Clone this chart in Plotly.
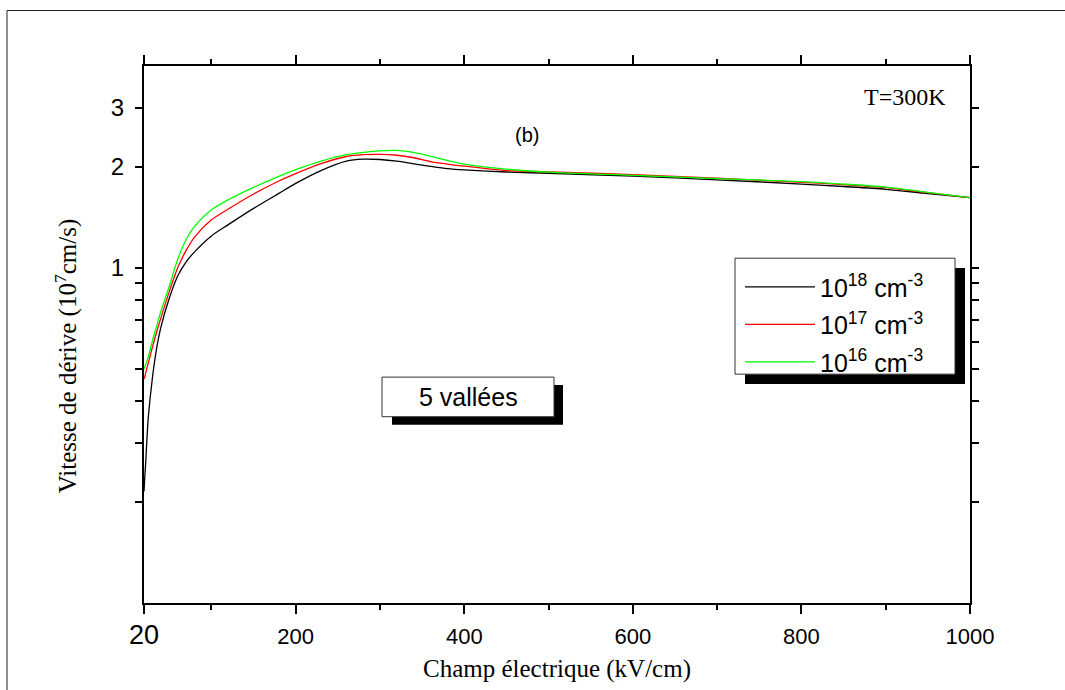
import plotly.graph_objects as go

# ---- data ----
field = [20, 21, 22, 25, 30, 35, 40, 50, 60, 70, 80, 100, 120, 150, 180, 200, 230, 260,
         280, 300, 320, 340, 360, 380, 400, 450, 500, 600, 700, 800, 850, 900, 950, 1000]

v_1e18 = [0.215, 0.239, 0.262, 0.355, 0.470, 0.575, 0.664, 0.811, 0.945, 1.042, 1.116, 1.245,
          1.345, 1.504, 1.668, 1.786, 1.950, 2.080, 2.110, 2.104, 2.080, 2.043, 2.008, 1.977,
          1.959, 1.931, 1.915, 1.876, 1.830, 1.778, 1.748, 1.715, 1.665, 1.620]
v_1e17 = [0.466, 0.474, 0.486, 0.519, 0.580, 0.643, 0.708, 0.849, 1.000, 1.127, 1.235, 1.390,
          1.497, 1.660, 1.815, 1.910, 2.045, 2.148, 2.175, 2.180, 2.167, 2.130, 2.075, 2.040,
          2.010, 1.950, 1.933, 1.897, 1.850, 1.800, 1.770, 1.734, 1.675, 1.620]
v_1e16 = [0.499, 0.507, 0.515, 0.541, 0.606, 0.670, 0.741, 0.881, 1.060, 1.215, 1.330, 1.490,
          1.596, 1.738, 1.875, 1.962, 2.081, 2.176, 2.210, 2.234, 2.240, 2.210, 2.150, 2.090,
          2.040, 1.970, 1.930, 1.888, 1.846, 1.808, 1.778, 1.741, 1.680, 1.620]

series_names = ["10<sup>18</sup> cm<sup>-3</sup>", "10<sup>17</sup> cm<sup>-3</sup>",
                "10<sup>16</sup> cm<sup>-3</sup>"]
series_colors = ["#000000", "#ff0000", "#00ff00"]

x_tick_vals = [20, 200, 400, 600, 800, 1000]
x_tick_text = ["20", "200", "400", "600", "800", "1000"]
x_minor_vals = [100, 300, 500, 700, 900]
y_tick_vals = [1, 2, 3]
y_tick_text = ["1", "2", "3"]
y_minor_vals = [0.2, 0.3, 0.4, 0.5, 0.6, 0.7, 0.8, 0.9]

SANS = "Liberation Sans, Arial, sans-serif"
SERIF = "Liberation Serif, Times New Roman, serif"

fig = go.Figure()
for name, vals, col, grp in zip(series_names, [v_1e18, v_1e17, v_1e16], series_colors, ["a", "b", "c"]):
    fig.add_trace(go.Scatter(x=field, y=vals, mode="lines", name=name, legendgroup=grp,
                             line=dict(color=col, width=1.3, shape="spline", smoothing=0.8)))

# styled tick text (first label larger as in the reference)
x_tick_styled = ['<span style="font-size:27px">%s</span>' % x_tick_text[0]] + x_tick_text[1:]

L, R, T, B = 144, 95, 66, 82
W, H = 1065, 690
pw, ph = W - L - R, H - T - B

def px(xp):
    return (xp - L) / pw

def py(yp):
    return (H - B - yp) / ph

fig.update_layout(
    width=W, height=H,
    margin=dict(l=L, r=R, t=T, b=B),
    paper_bgcolor="white", plot_bgcolor="white",
    showlegend=True,
    legend=dict(x=px(740), y=py(266), xanchor="left", yanchor="top",
                bgcolor="rgba(0,0,0,0)", borderwidth=0, tracegroupgap=2, itemwidth=70,
                font=dict(family=SANS, size=25, color="black")),
    xaxis=dict(range=[20, 1000], tickmode="array", tickvals=x_tick_vals, ticktext=x_tick_styled,
               showline=True, linecolor="black", linewidth=2, mirror="ticks",
               ticks="outside", ticklen=9, tickwidth=2, tickcolor="black",
               ticklabelstandoff=4,
               minor=dict(tickvals=x_minor_vals, ticks="outside", ticklen=5, tickwidth=2, tickcolor="black"),
               showgrid=False, zeroline=False,
               tickfont=dict(family=SANS, size=22, color="black"),
               title=dict(text="Champ électrique (kV/cm)", standoff=10,
                          font=dict(family=SERIF, size=25, color="black"))),
    yaxis=dict(type="log", range=[-1, 0.60206], tickmode="array", tickvals=y_tick_vals, ticktext=y_tick_text,
               showline=True, linecolor="black", linewidth=2, mirror="ticks",
               ticks="outside", ticklen=7, tickwidth=2, tickcolor="black",
               ticklabelstandoff=6,
               minor=dict(tickvals=y_minor_vals, ticks="outside", ticklen=7, tickwidth=2, tickcolor="black"),
               showgrid=False, zeroline=False,
               tickfont=dict(family=SANS, size=24, color="black")),
)

shapes = [
    # outer frame (top and left edges visible in the reference)
    dict(type="line", xref="paper", yref="paper", x0=px(7), y0=py(10), x1=px(1070), y1=py(10),
         line=dict(color="#222222", width=1), layer="above"),
    dict(type="line", xref="paper", yref="paper", x0=px(7), y0=py(10), x1=px(7), y1=py(700),
         line=dict(color="#222222", width=1), layer="above"),
    # legend shadow + box
    dict(type="rect", xref="paper", yref="paper", x0=px(745), y0=py(270), x1=px(965), y1=py(387),
         line=dict(width=0), fillcolor="black", layer="above"),
    dict(type="rect", xref="paper", yref="paper", x0=px(735), y0=py(260), x1=px(955), y1=py(377),
         line=dict(color="#333333", width=1), fillcolor="white", layer="above"),
    # "5 vallées" shadow + box
    dict(type="rect", xref="paper", yref="paper", x0=px(392), y0=py(388), x1=px(563), y1=py(428),
         line=dict(width=0), fillcolor="black", layer="above"),
    dict(type="rect", xref="paper", yref="paper", x0=px(382), y0=py(380), x1=px(554), y1=py(420),
         line=dict(color="#333333", width=1), fillcolor="white", layer="above"),
]
fig.update_layout(shapes=shapes)

# y-axis title (placed as in the reference, slightly below the axis centre)
fig.add_annotation(x=px(66), y=py(359), xref="paper", yref="paper",
                   text="Vitesse de dérive (10<sup>7</sup>cm/s)", textangle=-90,
                   showarrow=False, xanchor="center", yanchor="middle",
                   font=dict(family=SERIF, size=25, color="black"))
fig.add_annotation(x=px(468), y=py(400), xref="paper", yref="paper", text="5 vallées",
                   showarrow=False, xanchor="center", yanchor="middle",
                   font=dict(family=SANS, size=25, color="black"))
fig.add_annotation(x=px(527), y=py(136), xref="paper", yref="paper", text="(b)",
                   showarrow=False, xanchor="center", yanchor="middle",
                   font=dict(family=SANS, size=20, color="black"))
fig.add_annotation(x=px(905), y=py(97), xref="paper", yref="paper", text="T=300K",
                   showarrow=False, xanchor="center", yanchor="middle",
                   font=dict(family=SERIF, size=24, color="black"))

fig.write_html("out.html")
